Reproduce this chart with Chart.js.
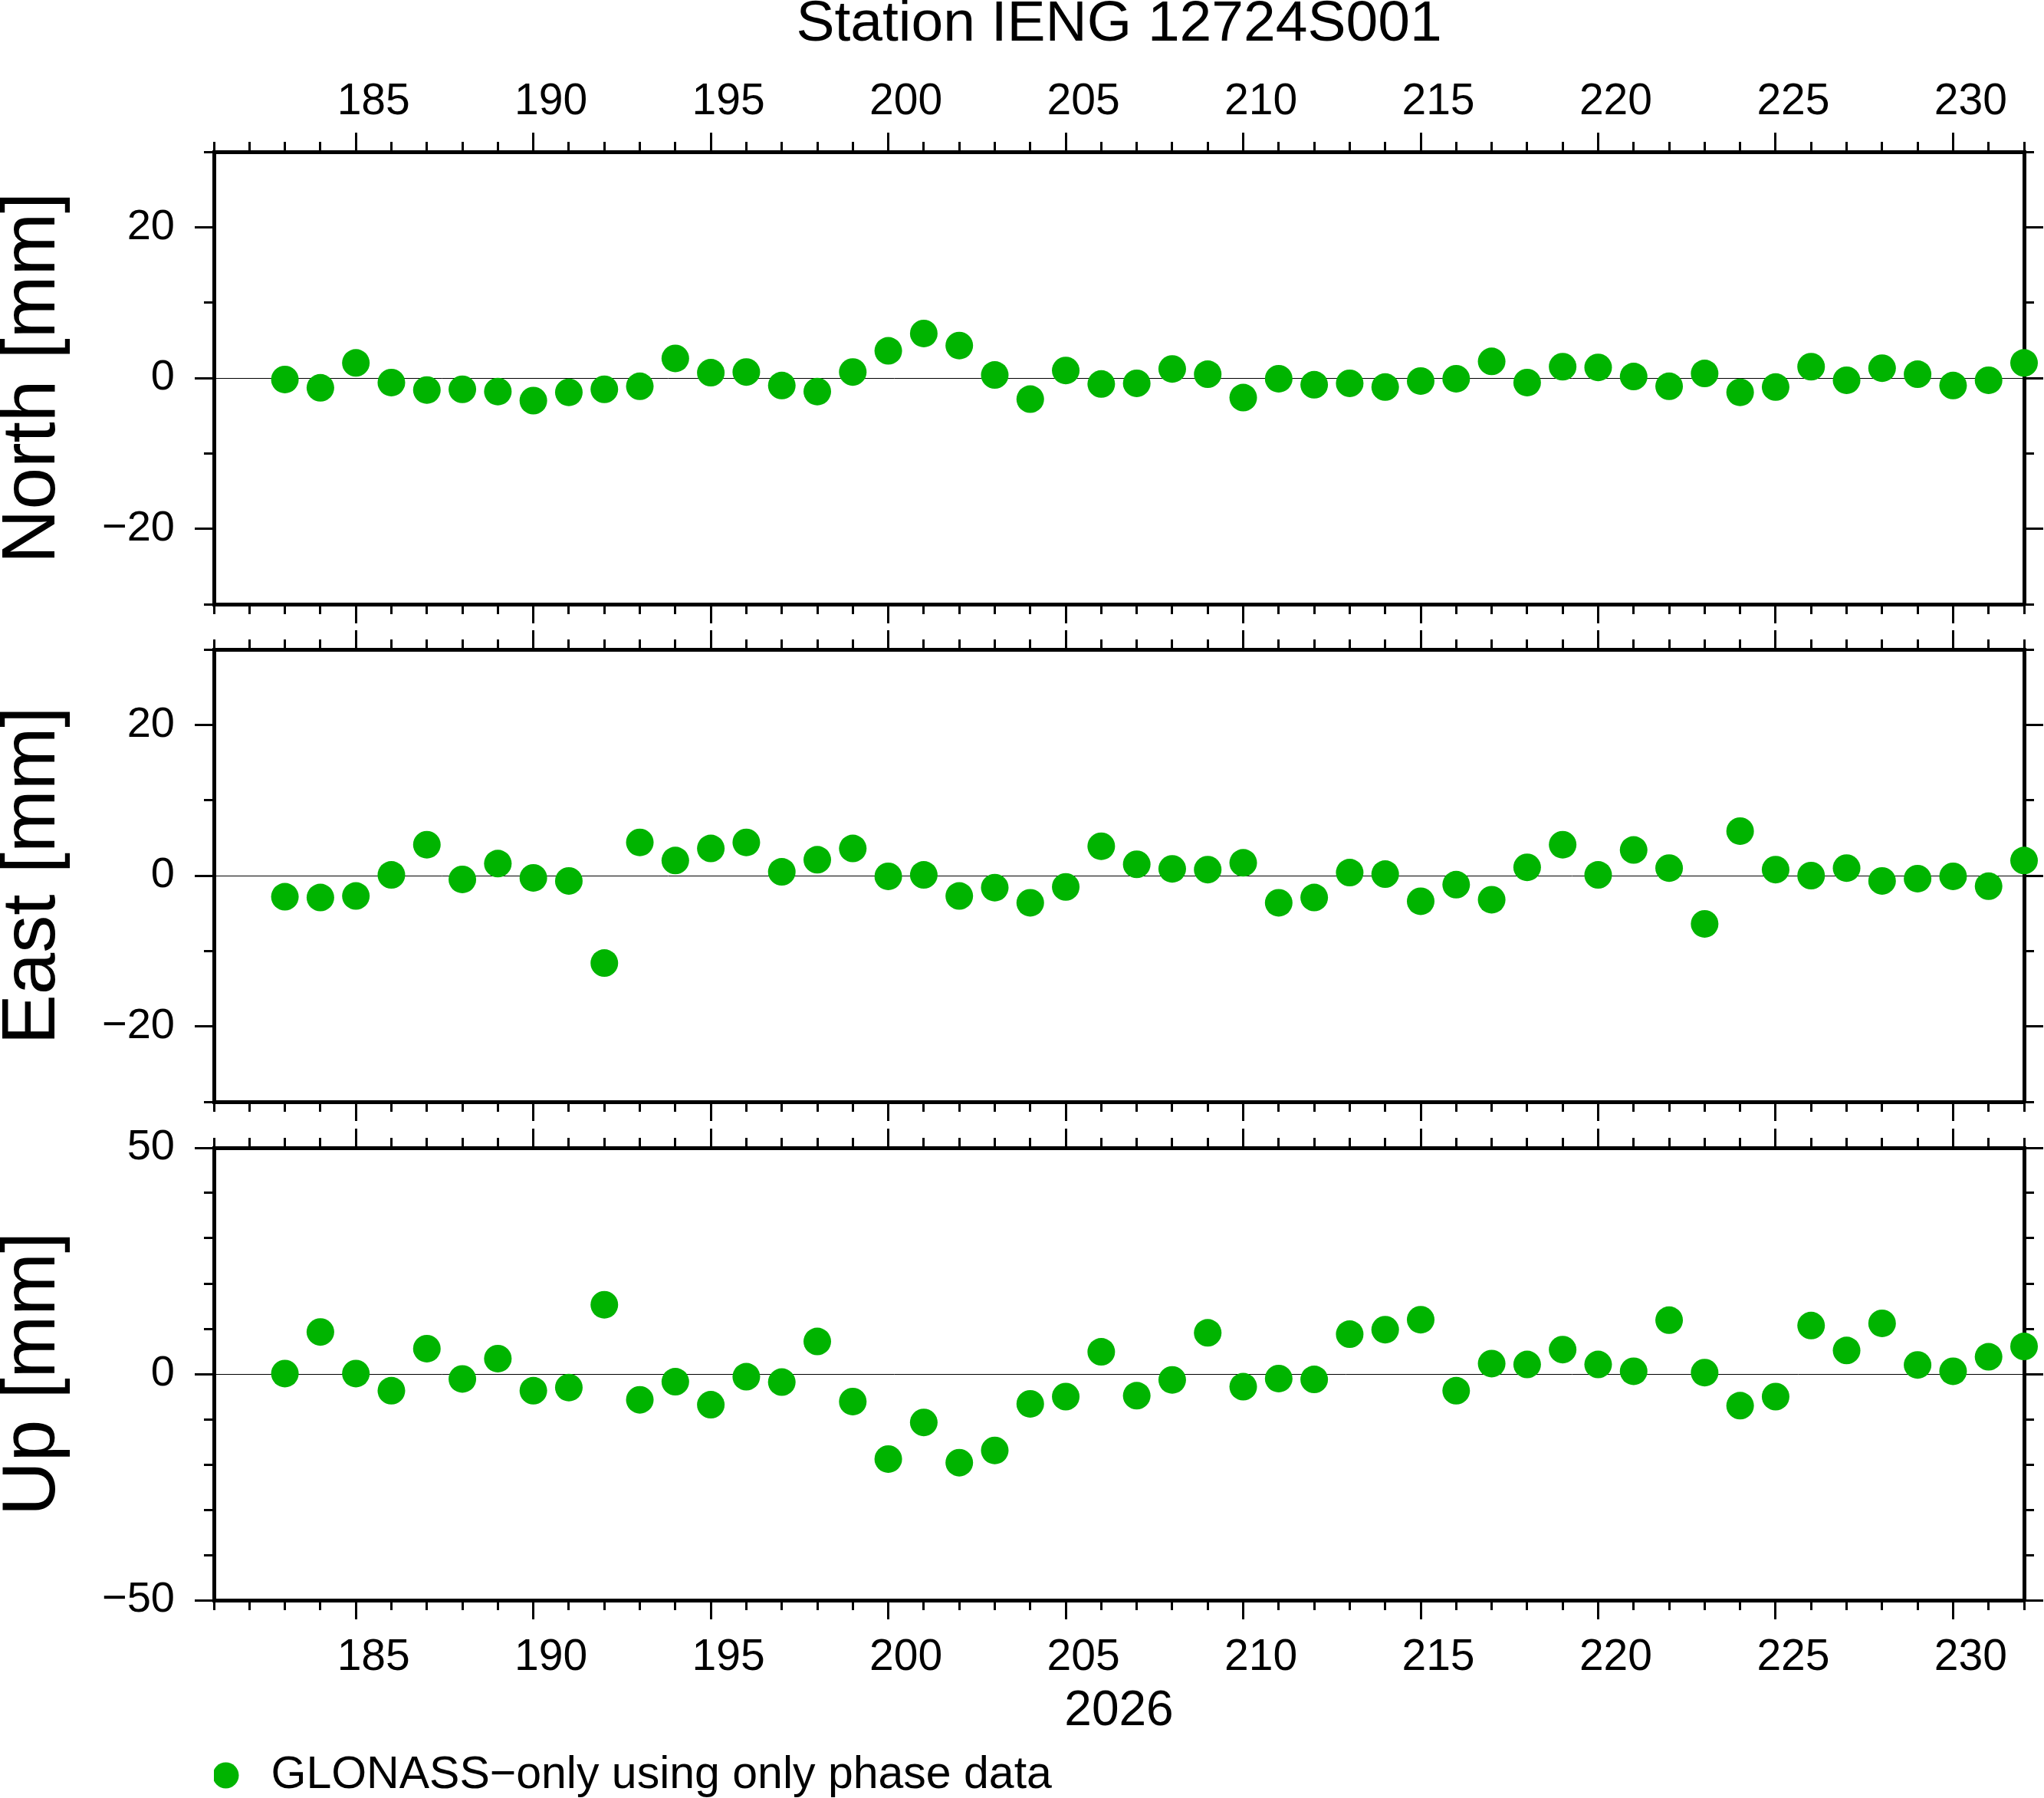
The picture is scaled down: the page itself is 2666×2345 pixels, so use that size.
<!DOCTYPE html>
<html>
<head>
<meta charset="utf-8">
<script src="https://cdn.jsdelivr.net/npm/chart.js@4.4.1/dist/chart.umd.min.js"></script>
<style>
  html, body { margin: 0; padding: 0; background: #fff; }
  body { width: 2666px; height: 2345px; position: relative; overflow: hidden; }
  canvas { position: absolute; left: 0; }
  #north { top: 0; }
  #east { top: 818px; }
  #up { top: 1467px; }
</style>
</head>
<body>
<canvas id="north" width="2666" height="818"></canvas>
<canvas id="east" width="2666" height="649"></canvas>
<canvas id="up" width="2666" height="888"></canvas>
<script>
// day of year 2026
const DAYS = [183,184,185,186,187,188,189,190,191,192,193,194,195,196,197,198,199,200,201,202,
  203,204,205,206,207,208,209,210,211,212,213,214,215,216,217,218,219,220,221,222,
  223,224,225,226,227,228,229,230,231,232];

// residuals [mm]
const NORTH = [-0.2,-1.3,2.0,-0.6,-1.6,-1.5,-1.8,-3.0,-1.9,-1.5,-1.1,2.6,0.7,0.8,-1.0,-1.8,0.8,3.6,5.9,4.3,
  0.4,-2.8,1.0,-0.8,-0.7,1.2,0.5,-2.6,-0.1,-0.9,-0.7,-1.2,-0.4,-0.1,2.2,-0.6,1.5,1.4,0.2,-1.1,
  0.6,-1.9,-1.2,1.5,-0.3,1.3,0.5,-1.0,-0.3,2.0];
const EAST = [-2.8,-2.9,-2.7,0.1,4.1,-0.5,1.6,-0.3,-0.7,-11.6,4.4,2.0,3.6,4.4,0.5,2.1,3.6,-0.1,0.1,-2.7,
  -1.6,-3.6,-1.5,3.9,1.5,0.9,0.8,1.7,-3.6,-2.9,0.4,0.2,-3.4,-1.2,-3.2,1.1,4.1,0.1,3.4,1.0,
  -6.4,5.9,0.8,0.0,1.0,-0.7,-0.4,-0.1,-1.4,2.0];
const UP = [0.1,9.3,0.1,-3.7,5.6,-1.1,3.4,-3.7,-3.0,15.3,-5.7,-1.7,-6.8,-0.6,-1.8,7.2,-6.1,-18.8,-10.7,-19.6,
  -16.9,-6.6,-5.0,4.9,-4.8,-1.3,9.1,-2.8,-1.0,-1.2,8.8,9.8,12.0,-3.7,2.3,2.1,5.4,2.1,0.6,11.9,
  0.3,-7.0,-5.0,10.7,5.2,11.2,2.0,0.6,3.8,6.1];

// axis ticks
const X_MIN = 181, X_MAX = 232;
const X_MAJOR = [185,190,195,200,205,210,215,220,225,230];
const X_MINOR = [181,182,183,184,185,186,187,188,189,190,191,192,193,194,195,196,197,198,199,200,
  201,202,203,204,205,206,207,208,209,210,211,212,213,214,215,216,217,218,219,220,
  221,222,223,224,225,226,227,228,229,230,231,232];
const NE_MAJOR = [-20,0,20];
const NE_MINOR = [-30,-20,-10,0,10,20,30];
const UP_MAJOR = [-50,0,50];
const UP_MINOR = [-50,-40,-30,-20,-10,0,10,20,30,40,50];

const TITLE = "Station IENG 12724S001";
const YEAR = "2026";
const SERIES = "GLONASS\u2212only using only phase data";

const FONT = "'Liberation Sans', Arial, Helvetica, sans-serif";
const BLACK = "#000";
const GREEN = "rgb(0,180,0)";

function fixedTicks(list){
  return scale => { scale.ticks = list.map(v => ({ value: v })); };
}
function minus(v){
  return v < 0 ? "\u2212" + Math.abs(v) : String(v);
}
// pin an axis box to a fixed size so the three panels line up
function sized(prop, n){
  return scale => {
    scale[prop] = n;
    scale.paddingTop = scale.paddingBottom = scale.paddingLeft = scale.paddingRight = 0;
  };
}

function xAxis(position, major, size, labels, title){
  const isTop = position === "top";
  return {
    type: "linear", axis: "x", position, weight: major ? 1 : 0,
    min: X_MIN, max: X_MAX,
    afterBuildTicks: fixedTicks(major ? X_MAJOR : X_MINOR),
    afterFit: sized("height", major ? size : 0),
    grid: { drawOnChartArea: false, tickLength: major ? 25 : 13, tickWidth: 3, tickColor: BLACK },
    border: { display: major, width: 5, color: BLACK },
    ticks: {
      display: !!labels, autoSkip: false, maxRotation: 0, labelOffset: 23,
      padding: isTop ? 11 : 22, color: BLACK,
      font: { family: FONT, size: 57, lineHeight: 1 },
      callback: v => String(v)
    },
    title: title ? {
      display: true, text: title, color: BLACK,
      font: { family: FONT, size: isTop ? 75 : 64, lineHeight: isTop ? 0.75 : 1 },
      padding: isTop ? { top: 4, bottom: 0 } : { top: 0, bottom: 16 }
    } : { display: false }
  };
}

function yAxis(position, major, ticks, min, max, title){
  const left = position === "left";
  return {
    type: "linear", axis: "y", position, weight: major ? 1 : 0,
    min, max,
    afterBuildTicks: fixedTicks(ticks),
    afterFit: sized("width", major ? (left ? 279 : 26) : 0),
    grid: {
      drawOnChartArea: major && left,
      color: c => (c.tick && c.tick.value === 0) ? BLACK : "rgba(0,0,0,0)",
      lineWidth: 1,
      tickLength: major ? 25 : 13, tickWidth: 3, tickColor: BLACK
    },
    border: { display: major, width: 5, color: BLACK },
    ticks: {
      display: major && left, autoSkip: false, padding: 26, color: BLACK,
      font: { family: FONT, size: 56, lineHeight: 1 },
      callback: minus
    },
    title: title ? {
      display: true, text: title, color: BLACK,
      font: { family: FONT, size: 98, lineHeight: 0.8 },
      padding: { top: 5, bottom: 0 }
    } : { display: false }
  };
}

function panel(id, values, p){
  const ctx = document.getElementById(id).getContext("2d");
  return new Chart(ctx, {
    type: "scatter",
    data: {
      datasets: [{
        label: SERIES,
        data: DAYS.map((d, i) => ({ x: d, y: values[i] })),
        backgroundColor: GREEN,
        borderWidth: 0,
        pointRadius: 18,
        pointHoverRadius: 18,
        pointBorderWidth: 0,
        clip: false
      }]
    },
    options: {
      responsive: false,
      animation: false,
      devicePixelRatio: 1,
      events: [],
      layout: { padding: 0 },
      plugins: {
        tooltip: { enabled: false },
        legend: p.legend ? {
          display: true, position: "bottom", align: "start", fullSize: false,
          // empty title only adds head room so the entry is not clipped
          title: { display: true, text: "", padding: 0, font: { size: 20, lineHeight: 1 } },
          labels: {
            usePointStyle: true, boxWidth: 59, boxHeight: 24, padding: -14,
            color: BLACK, font: { family: FONT, size: 59 }
          }
        } : { display: false }
      },
      scales: {
        xTop: xAxis("top", true, p.topH, p.topLabels, p.topTitle),
        xTopMinor: xAxis("top", false),
        x: xAxis("bottom", true, p.bottomH, p.bottomLabels, p.bottomTitle),
        xMinor: xAxis("bottom", false),
        y: yAxis("left", true, p.major, p.min, p.max, p.yTitle),
        yMinor: yAxis("left", false, p.minor, p.min, p.max),
        yRight: yAxis("right", true, p.major, p.min, p.max),
        yRightMinor: yAxis("right", false, p.minor, p.min, p.max)
      }
    }
  });
}

panel("north", NORTH, {
  min: -30, max: 30, major: NE_MAJOR, minor: NE_MINOR, yTitle: "North [mm]",
  topH: 198, topLabels: true, topTitle: TITLE, bottomH: 30
});
panel("east", EAST, {
  min: -30, max: 30, major: NE_MAJOR, minor: NE_MINOR, yTitle: "East [mm]",
  topH: 29, bottomH: 30
});
panel("up", UP, {
  min: -50, max: 50, major: UP_MAJOR, minor: UP_MINOR, yTitle: "Up [mm]",
  topH: 30, bottomH: 193, bottomLabels: true, bottomTitle: YEAR, legend: true
});
</script>
</body>
</html>
